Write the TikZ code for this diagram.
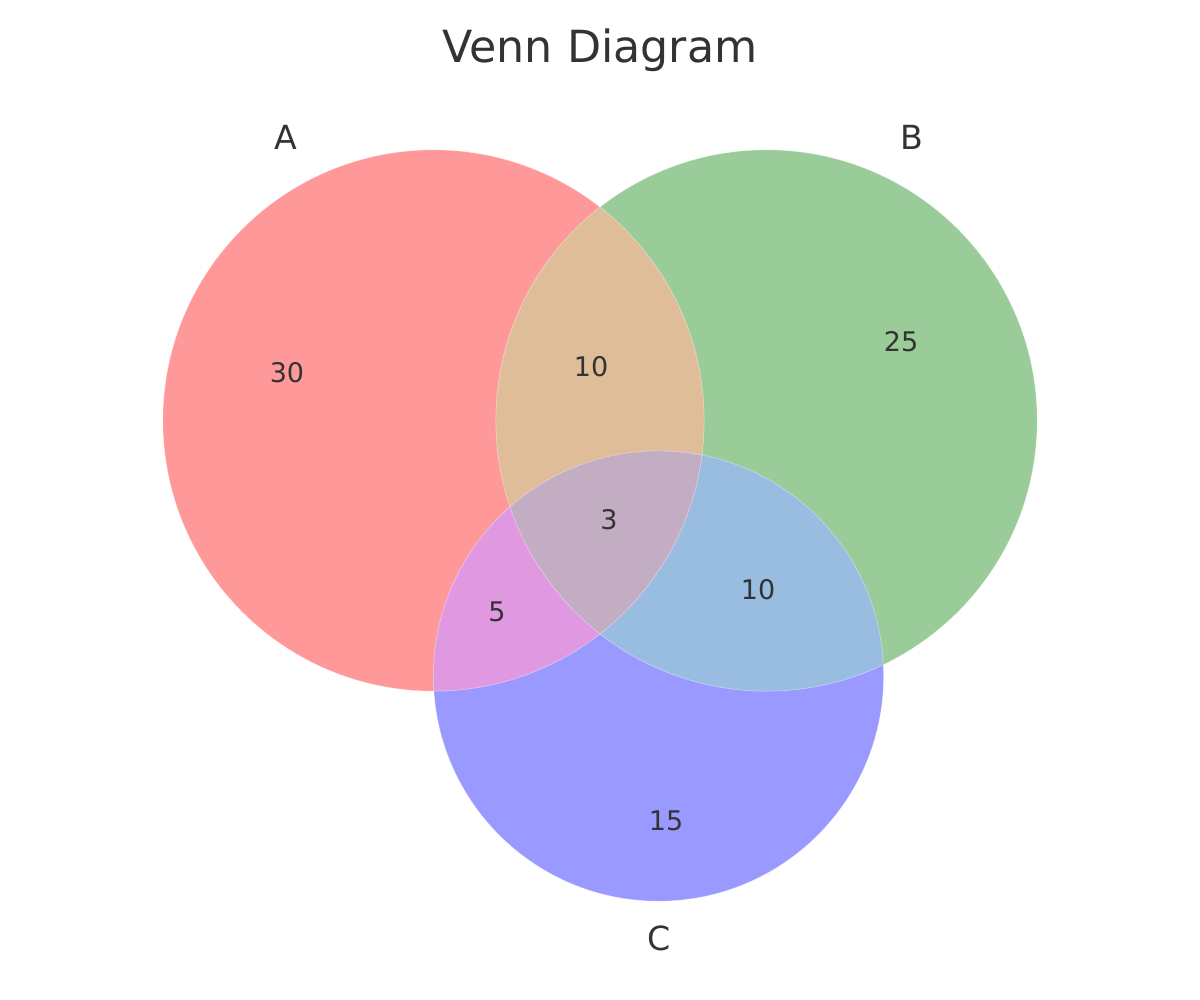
\documentclass[tikz,border=0pt]{standalone}
\usepackage{fontspec}
\setmainfont{DejaVu Sans}
\definecolor{textgray}{RGB}{51,51,51}
\definecolor{colA}{RGB}{255,153,153}
\definecolor{colB}{RGB}{153,204,153}
\definecolor{colC}{RGB}{153,153,255}
\definecolor{colAB}{RGB}{224,189,153}
\definecolor{colAC}{RGB}{224,153,224}
\definecolor{colBC}{RGB}{153,189,224}
\definecolor{colABC}{RGB}{194,173,194}

\begin{document}
\begin{tikzpicture}[
x=0.01in, y=-0.01in,
every node/.style={text=textgray, font=\fontsize{19.5}{22}\selectfont},
titletext/.style={font=\fontsize{32}{36}\selectfont, anchor=base},
setlabel/.style={font=\fontsize{24}{27}\selectfont},
bigr/.style={radius=2.705in},
smallr/.style={radius=2.25in},
rim/.style={draw=white, draw opacity=0.4, line width=0.5pt}
]
\useasboundingbox (0,0) rectangle (1200,1000);

% CENTROS
\coordinate (cA) at (433.5,420.5);
\coordinate (cB) at (766.5,420.5);
\coordinate (cC) at (658.5,676);

% CIRCULOS
\fill[colA] (cA) circle[bigr];
\fill[colB] (cB) circle[bigr];
\fill[colC] (cC) circle[smallr];

% B y C
\begin{scope}
\clip (cB) circle[bigr];
\fill[colBC] (cC) circle[smallr];
\end{scope}

% A con B, A con C, los tres
\begin{scope}
\clip (cA) circle[bigr];
\fill[colAB] (cB) circle[bigr];
\fill[colAC] (cC) circle[smallr];
\clip (cB) circle[bigr];
\fill[colABC] (cC) circle[smallr];
\end{scope}

% BORDES
\draw[rim] (cA) circle[bigr];
\draw[rim] (cB) circle[bigr];
\draw[rim] (cC) circle[smallr];

% TITULO Y ETIQUETAS
\node (titulo) [titletext] at (600,63) {Venn Diagram};
\node (labA) [setlabel] at (286,137) {A};
\node (labB) [setlabel] at (912,137) {B};
\node (labC) [setlabel] at (659,938) {C};

% NUMEROS
\node (soloA) at (287,373) {30};
\node (soloB) at (901,342) {25};
\node (soloC) at (666,821) {15};
\node (ab) at (591,367) {10};
\node (bc) at (758,590) {10};
\node (ac) at (497,612) {5};
\node (abc) at (609,520) {3};

\end{tikzpicture}
\end{document}
